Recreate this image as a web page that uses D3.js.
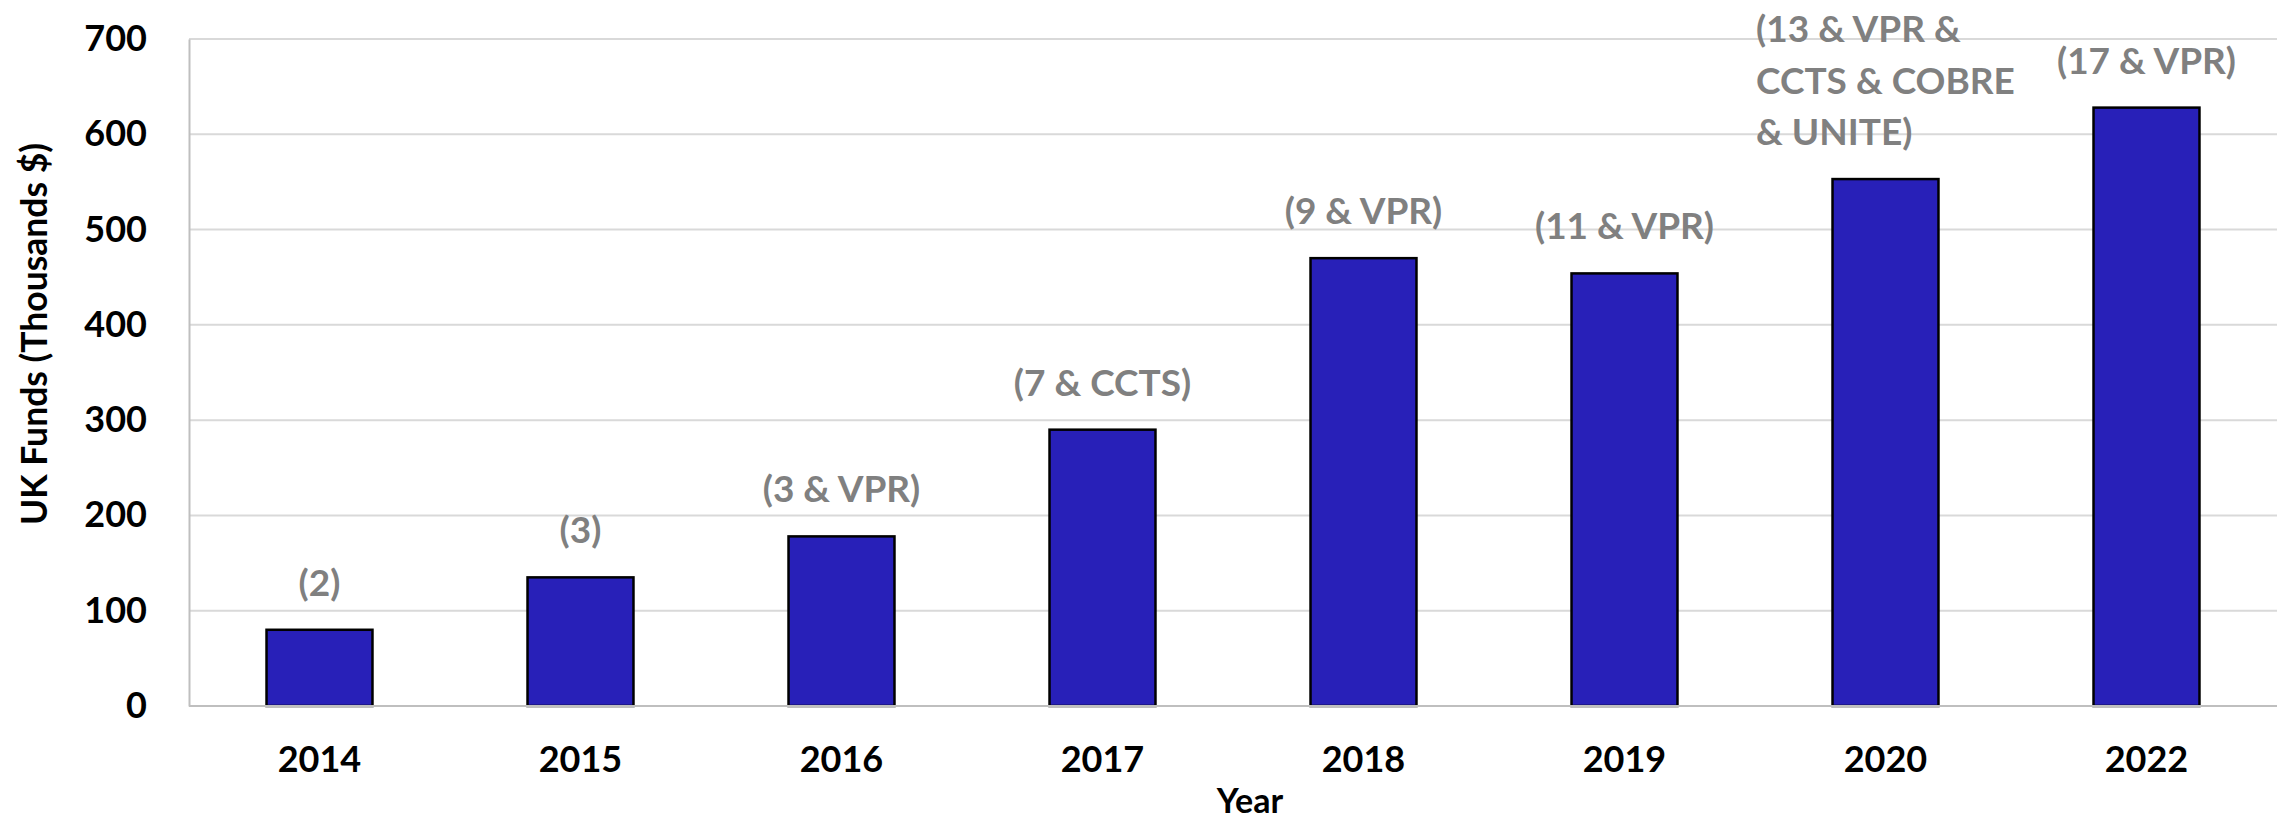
<!DOCTYPE html>
<html>
<head>
<meta charset="utf-8">
<script src="https://cdn.jsdelivr.net/npm/d3@7"></script>
<style>
	body { margin: 0; background: #fff; }
	text { font-family: Lato, "Noto Sans", sans-serif; font-weight: bold; }
</style>
</head>
<body>
<script>

// data
var years = ["2014", "2015", "2016", "2017", "2018", "2019", "2020", "2022"];
var funds = [80, 135, 178, 290, 470, 454, 553, 628];
var notes = [
	["(2)"],
	["(3)"],
	["(3 & VPR)"],
	["(7 & CCTS)"],
	["(9 & VPR)"],
	["(11 & VPR)"],
	["(13 & VPR &", "CCTS & COBRE", "& UNITE)"],
	["(17 & VPR)"]
];
var yTicks = [0, 100, 200, 300, 400, 500, 600, 700];

var width = 2283,
	height = 822;

var margin = {top: 39, right: 6, bottom: 116, left: 189};

var svg = d3.select("body").append("svg")
	.attr("width", width)
	.attr("height", height);

var g = svg.append("g")
	.attr("transform", "translate(" + margin.left + "," + margin.top + ")");

var w = width - margin.left - margin.right,
	h = height - margin.top - margin.bottom;

var x = d3.scaleBand()
	.domain(years)
	.range([0, w])
	.paddingInner(0.594)
	.paddingOuter(0.297);

var y = d3.scaleLinear()
	.domain([0, 700])
	.range([h, 0]);

// gridlines
g.selectAll(".grid")
	.data(yTicks.filter(d => d > 0))
	.enter()
	.append("line")
	.attr("x1", 0)
	.attr("x2", w)
	.attr("y1", d => y(d))
	.attr("y2", d => y(d))
	.attr("stroke", "#d9d9d9")
	.attr("stroke-width", 2);

// y axis
var yAxis = d3.axisLeft(y)
	.tickValues(yTicks)
	.tickSize(0)
	.tickPadding(42);

var yg = g.append("g").call(yAxis);
yg.select(".domain").attr("stroke", "#bfbfbf").attr("stroke-width", 2);
yg.selectAll("text")
	.attr("font-size", 36)
	.attr("fill", "#000")
	.style("font-family", "Lato, sans-serif");

// bars
g.selectAll(".bar")
	.data(years)
	.enter()
	.append("rect")
	.attr("x", d => x(d))
	.attr("y", (d, i) => y(funds[i]))
	.attr("width", x.bandwidth())
	.attr("height", (d, i) => h - y(funds[i]))
	.attr("fill", "#2820b8")
	.attr("stroke", "#000")
	.attr("stroke-width", 2.5);

// baseline
g.append("line")
	.attr("x1", 0)
	.attr("x2", w)
	.attr("y1", h)
	.attr("y2", h)
	.attr("stroke", "#bfbfbf")
	.attr("stroke-width", 2);

// x axis labels
var xAxis = d3.axisBottom(x).tickSize(0).tickPadding(40);
var xg = g.append("g")
	.attr("transform", "translate(0," + h + ")")
	.call(xAxis);
xg.select(".domain").remove();
xg.selectAll("text")
	.attr("font-size", 36)
	.attr("fill", "#000")
	.style("font-family", "Lato, sans-serif");

// data labels
var lineH = 51.5;
years.forEach(function(yr, i) {
	var lines = notes[i];
	var cx = x(yr) + x.bandwidth() / 2;
	var base = y(funds[i]) - 49;
	var t = g.append("text")
		.attr("font-size", 37)
		.attr("fill", "#808080")
		.attr("dominant-baseline", "central");
	lines.forEach(function(l, j) {
		t.append("tspan")
			.attr("y", base - (lines.length - 1 - j) * lineH)
			.text(l);
	});
	if (lines.length == 1) {
		t.attr("text-anchor", "middle").selectAll("tspan").attr("x", cx);
	} else {
		// left aligned block, centered on the bar
		var maxW = 0;
		t.selectAll("tspan").each(function() {
			maxW = Math.max(maxW, this.getComputedTextLength());
		});
		t.attr("text-anchor", "start").selectAll("tspan").attr("x", cx - maxW / 2);
	}
});

// axis titles
svg.append("text")
	.text("Year")
	.attr("x", 1250)
	.attr("y", 799)
	.attr("text-anchor", "middle")
	.attr("dominant-baseline", "central")
	.attr("font-size", 34);

svg.append("text")
	.text("UK Funds (Thousands $)")
	.attr("transform", "translate(33," + 334 + ")rotate(-90)")
	.attr("text-anchor", "middle")
	.attr("dominant-baseline", "central")
	.attr("font-size", 35.5);

</script>
</body>
</html>
